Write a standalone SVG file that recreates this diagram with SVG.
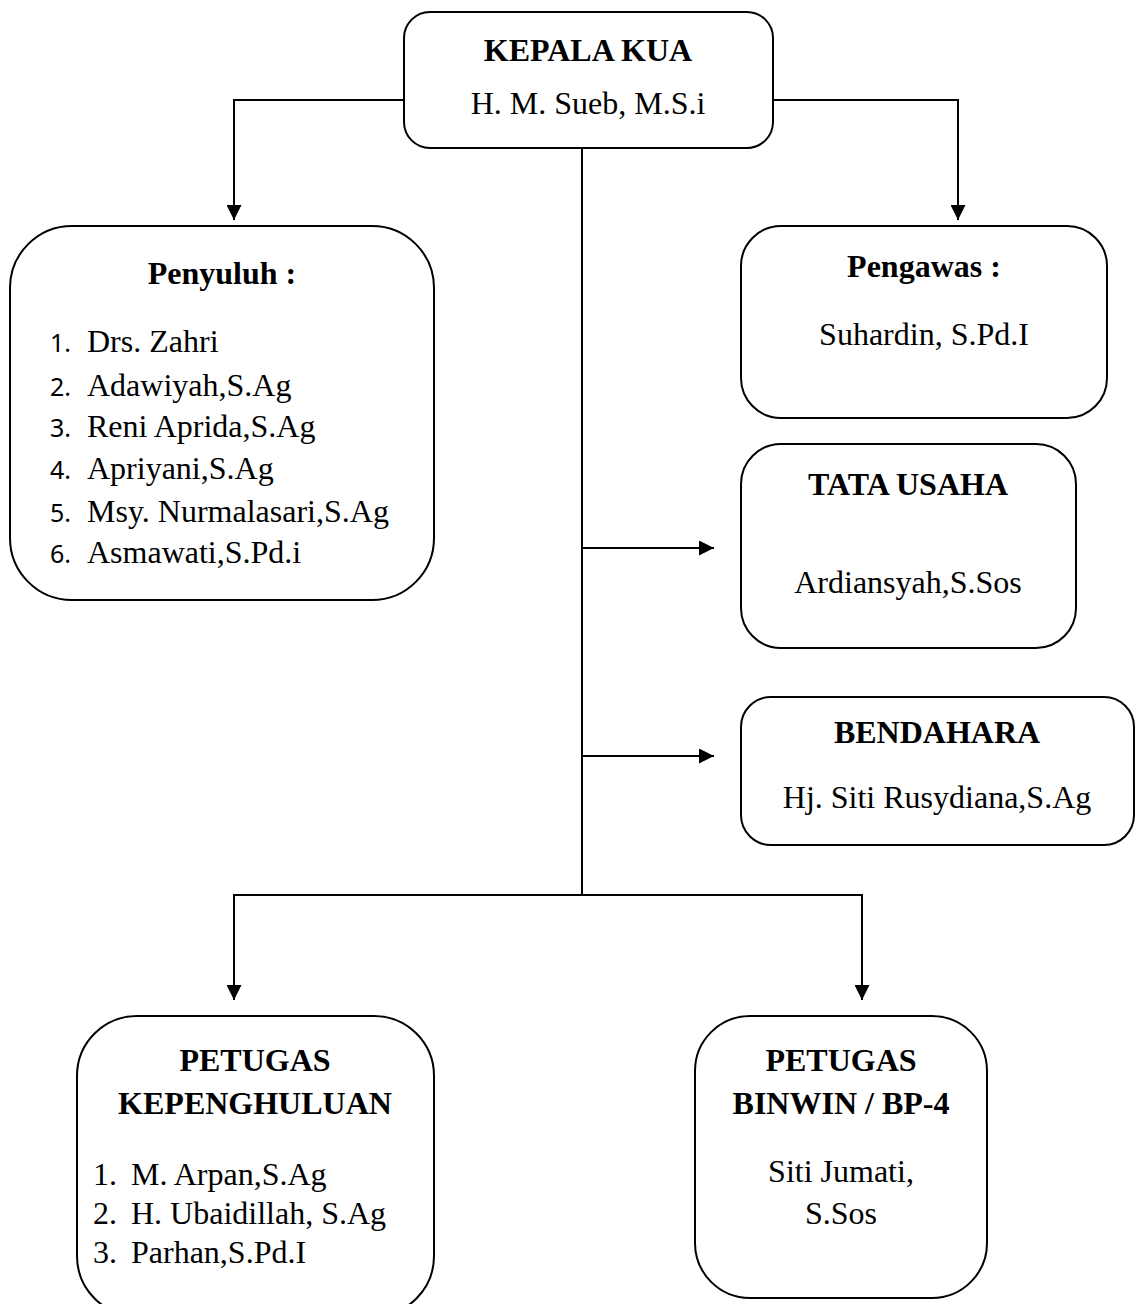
<svg xmlns="http://www.w3.org/2000/svg" width="1140" height="1304" viewBox="0 0 1140 1304">
<style>
.box{fill:#fff;stroke:#000;stroke-width:2}
.ln{fill:none;stroke:#000;stroke-width:2}
.t{font-family:"Liberation Serif","Times New Roman",serif;font-size:32px;fill:#000}
.b{font-weight:bold}
.c{text-anchor:middle}
.n{font-family:"Noto Sans","Liberation Sans",sans-serif;font-size:25px;fill:#000}
</style>
<defs>
<marker id="ah" viewBox="0 0 15 15" refX="15" refY="7.5" markerWidth="15" markerHeight="15" markerUnits="userSpaceOnUse" orient="auto">
<path d="M0,0 L15,7.5 L0,15 z" fill="#000"/>
</marker>
</defs>
<rect width="1140" height="1304" fill="#fff"/>
<g id="connectors">
<path class="ln" d="M404,100 H234 V220" marker-end="url(#ah)"/>
<path class="ln" d="M773,100 H958 V220" marker-end="url(#ah)"/>
<path class="ln" d="M582,148 V895"/>
<path class="ln" d="M582,548 H714" marker-end="url(#ah)"/>
<path class="ln" d="M582,756 H714" marker-end="url(#ah)"/>
<path class="ln" d="M582,895 H234 V1000" marker-end="url(#ah)"/>
<path class="ln" d="M582,895 H862 V1000" marker-end="url(#ah)"/>
</g>
<g id="kepala">
<rect class="box" x="404" y="12" width="369" height="136" rx="26"/>
<text class="t b c" x="588" y="61">KEPALA KUA</text>
<text class="t c" x="588" y="114">H. M. Sueb, M.S.i</text>
</g>
<g id="penyuluh">
<rect class="box" x="10" y="226" width="424" height="374" rx="62"/>
<text class="t b c" x="222" y="284">Penyuluh :</text>
<text class="n" x="50" y="352">1.</text><text class="t" x="87" y="352">Drs. Zahri</text>
<text class="n" x="50" y="396">2.</text><text class="t" x="87" y="396">Adawiyah,S.Ag</text>
<text class="n" x="50" y="437">3.</text><text class="t" x="87" y="437">Reni Aprida,S.Ag</text>
<text class="n" x="50" y="479">4.</text><text class="t" x="87" y="479">Apriyani,S.Ag</text>
<text class="n" x="50" y="522">5.</text><text class="t" x="87" y="522">Msy. Nurmalasari,S.Ag</text>
<text class="n" x="50" y="563">6.</text><text class="t" x="87" y="563">Asmawati,S.Pd.i</text>
</g>
<g id="pengawas">
<rect class="box" x="741" y="226" width="366" height="192" rx="40"/>
<text class="t b c" x="924" y="277">Pengawas :</text>
<text class="t c" x="924" y="345">Suhardin, S.Pd.I</text>
</g>
<g id="tatausaha">
<rect class="box" x="741" y="444" width="335" height="204" rx="40"/>
<text class="t b c" x="908" y="495">TATA USAHA</text>
<text class="t c" x="908" y="593">Ardiansyah,S.Sos</text>
</g>
<g id="bendahara">
<rect class="box" x="741" y="697" width="393" height="148" rx="30"/>
<text class="t b c" x="937" y="743">BENDAHARA</text>
<text class="t c" x="937" y="808">Hj. Siti Rusydiana,S.Ag</text>
</g>
<g id="kepenghuluan">
<rect class="box" x="77" y="1016" width="357" height="300" rx="60"/>
<text class="t b c" x="255" y="1071">PETUGAS</text>
<text class="t b c" x="255" y="1114">KEPENGHULUAN</text>
<text class="t" x="93" y="1185">1.</text><text class="t" x="131" y="1185">M. Arpan,S.Ag</text>
<text class="t" x="93" y="1224">2.</text><text class="t" x="131" y="1224">H. Ubaidillah, S.Ag</text>
<text class="t" x="93" y="1263">3.</text><text class="t" x="131" y="1263">Parhan,S.Pd.I</text>
</g>
<g id="binwin">
<rect class="box" x="695" y="1016" width="292" height="282" rx="55"/>
<text class="t b c" x="841" y="1071">PETUGAS</text>
<text class="t b c" x="841" y="1114">BINWIN / BP-4</text>
<text class="t c" x="841" y="1182">Siti Jumati,</text>
<text class="t c" x="841" y="1224">S.Sos</text>
</g>
</svg>
